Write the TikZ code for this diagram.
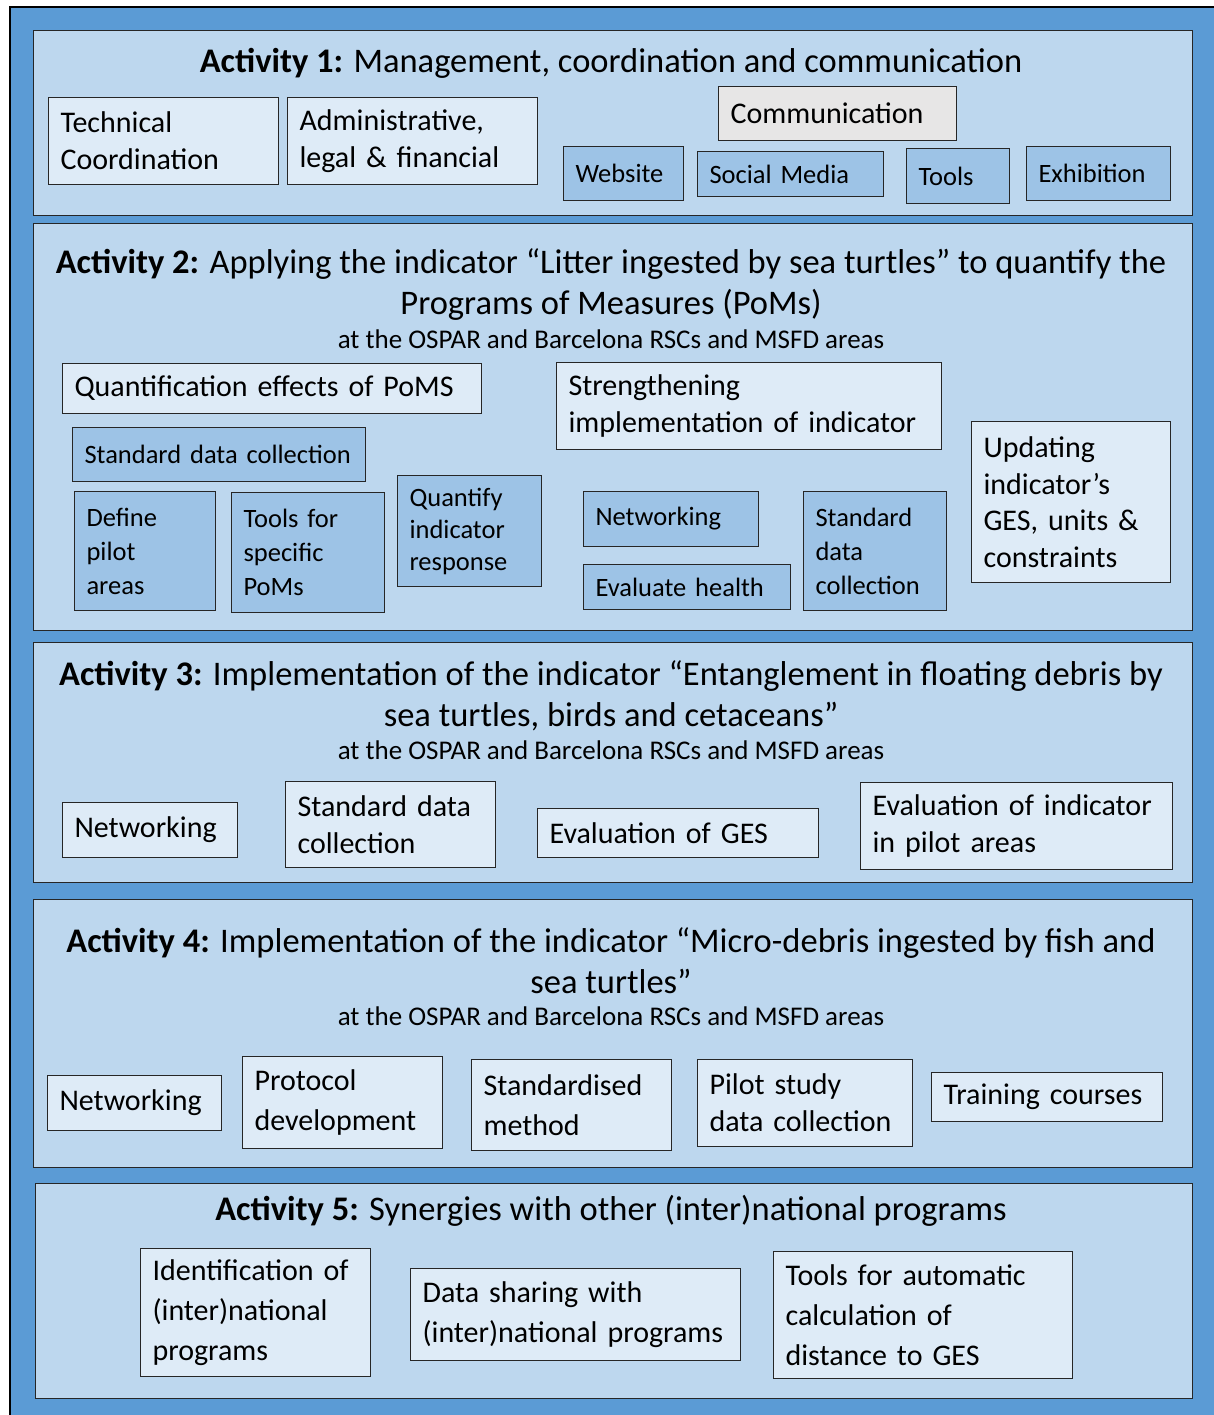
\documentclass[tikz,border=0pt]{standalone}
\usepackage{fontspec}
\setmainfont{Carlito}
\usepackage{tikz}
\usepackage{xcolor}
\usetikzlibrary{positioning, fit, arrows.meta}

\definecolor{outerblue}{HTML}{5B9BD5}
\definecolor{panelblue}{HTML}{BDD7EE}
\definecolor{liteblue}{HTML}{DEEBF7}
\definecolor{midblue}{HTML}{9DC3E6}
\definecolor{commgrey}{HTML}{E7E6E6}

\begin{document}
\begin{tikzpicture}[x=1pt, y=-1pt,
    panel/.style={draw=black!85, line width=1.3pt, fill=panelblue, anchor=north west, inner sep=0pt},
    bx/.code 2 args={\pgfmathsetmacro\bxw{#1-24}\tikzset{minimum width=#1pt, minimum height=#2pt, text width/.expanded=\bxw pt}},
    box/.style={draw=black!85, line width=1.1pt, anchor=north west, align=left, inner xsep=12pt, inner ysep=0pt, font=\fontsize{30}{37}\selectfont},
    litebox/.style={box, fill=liteblue},
    midbox/.style={box, fill=midblue, font=\fontsize{26.5}{34}\selectfont},
    greybox/.style={box, fill=commgrey},
    title/.style={align=center, font=\fontsize{34.5}{41}\selectfont},
    sub/.style={font=\fontsize{27}{30}\selectfont}]
    % Page size and outer frame
    \useasboundingbox (0,0) rectangle (1214,1415);
    \fill[outerblue] (10,7) rectangle (1214,1415);
    \draw[black, line width=1.2pt] (10,1415) -- (10,7) -- (1214,7);

    % Activity 1
    \node[panel, minimum width=1159pt, minimum height=185pt] (A1) at (33,30) {};
    \node[title] (T1) at (611,63) {\textbf{Activity 1:} Management, coordination and communication};
    \node[litebox, bx={230}{87}] (tech) at (48,97) {Technical\\Coordination};
    \node[litebox, bx={250}{87}] (admin) at (287,97) {Administrative,\\legal \& financial};
    \node[greybox, bx={238}{54}] (comm) at (718,86) {Communication};
    \node[midbox, bx={120}{54}] (web) at (563,146) {Website};
    \node[midbox, bx={186}{45}] (social) at (697,151) {Social Media};
    \node[midbox, bx={103}{55}] (tools) at (906,148) {Tools};
    \node[midbox, bx={144}{54}] (exhib) at (1026,146) {Exhibition};

    % Activity 2
    \node[panel, minimum width=1159pt, minimum height=407pt] (A2) at (33,223) {};
    \node[title] (T2) at (611,285) {\textbf{Activity 2:} Applying the indicator ``Litter ingested by sea turtles'' to quantify the\\Programs of Measures (PoMs)};
    \node[sub] (S2) at (611,339) {at the OSPAR and Barcelona RSCs and MSFD areas};
    \node[litebox, bx={419}{50}] (quant) at (62,363) {Quantification effects of PoMS};
    \node[midbox, bx={293}{54}] (sdc2) at (72,427) {Standard data collection};
    \node[midbox, bx={141}{119}] (pilot) at (74,491) {Define\\pilot\\areas};
    \node[midbox, bx={153}{120}] (tfsp) at (231,492) {Tools for\\specific\\PoMs};
    \node[midbox, bx={144}{111}, font=\fontsize{26.5}{32}\selectfont] (qir) at (397,475) {Quantify\\indicator\\response};
    \node[litebox, bx={385}{87}] (streng) at (556,362) {Strengthening\\implementation of indicator};
    \node[midbox, bx={175}{55}] (net2) at (583,491) {Networking};
    \node[midbox, bx={207}{45}] (health) at (583,564) {Evaluate health};
    \node[midbox, bx={143}{119}] (sdc2b) at (803,491) {Standard\\data\\collection};
    \node[litebox, bx={199}{161}, font=\fontsize{30}{36.5}\selectfont] (upd) at (971,421) {Updating\\indicator’s\\GES, units \&\\constraints};

    % Activity 3
    \node[panel, minimum width=1159pt, minimum height=240pt] (A3) at (33,642) {};
    \node[title] (T3) at (611,696) {\textbf{Activity 3:} Implementation of the indicator ``Entanglement in floating debris by\\sea turtles, birds and cetaceans''};
    \node[sub] (S3) at (611,750) {at the OSPAR and Barcelona RSCs and MSFD areas};
    \node[litebox, bx={175}{55}] (net3) at (62,802) {Networking};
    \node[litebox, bx={210}{86}] (sdc3) at (285,781) {Standard data\\collection};
    \node[litebox, bx={281}{49}] (eges) at (537,808) {Evaluation of GES};
    \node[litebox, bx={312}{87}] (evpil) at (860,782) {Evaluation of indicator\\in pilot areas};

    % Activity 4
    \node[panel, minimum width=1159pt, minimum height=268pt] (A4) at (33,899) {};
    \node[title] (T4) at (611,961) {\textbf{Activity 4:} Implementation of the indicator ``Micro-debris ingested by fish and\\sea turtles''};
    \node[sub] (S4) at (611,1016) {at the OSPAR and Barcelona RSCs and MSFD areas};
    \node[litebox, bx={174}{55}] (net4) at (47,1075) {Networking};
    \node[litebox, bx={200}{92}, font=\fontsize{30}{40}\selectfont] (proto) at (242,1056) {Protocol\\development};
    \node[litebox, bx={200}{91}, font=\fontsize{30}{40}\selectfont] (stdm) at (471,1059) {Standardised\\method};
    \node[litebox, bx={215}{87}] (pilotdc) at (697,1059) {Pilot study\\data collection};
    \node[litebox, bx={231}{49}] (train) at (931,1072) {Training courses};

    % Activity 5
    \node[panel, minimum width=1157pt, minimum height=215pt] (A5) at (35,1183) {};
    \node[title] (T5) at (611,1211) {\textbf{Activity 5:} Synergies with other (inter)national programs};
    \node[litebox, bx={230}{128}, font=\fontsize{30}{40}\selectfont] (ident) at (140,1248) {Identification of\\(inter)national\\programs};
    \node[litebox, bx={330}{92}, font=\fontsize{30}{40}\selectfont] (share) at (410,1268) {Data sharing with\\(inter)national programs};
    \node[litebox, bx={299}{127}, font=\fontsize{30}{40}\selectfont] (tauto) at (773,1251) {Tools for automatic\\calculation of\\distance to GES};
\end{tikzpicture}
\end{document}
